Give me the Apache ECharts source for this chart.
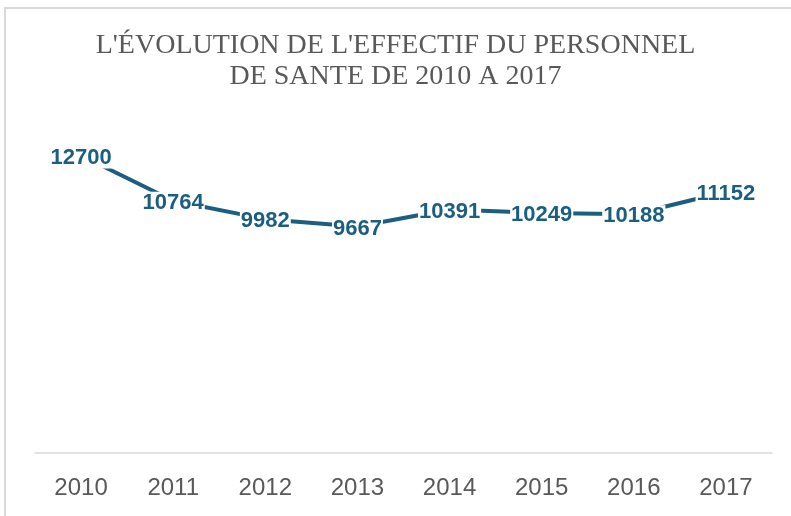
<!DOCTYPE html>
<html>
<head>
<meta charset="utf-8">
<script src="https://cdn.jsdelivr.net/npm/echarts@6/dist/echarts.min.js"></script>
<style>
html,body{margin:0;padding:0;background:#fff;}
#chart{width:791px;height:516px;}
</style>
</head>
<body>
<div id="chart"></div>
<script>
const titleText = "L'ÉVOLUTION DE L'EFFECTIF DU PERSONNEL\nDE SANTE DE 2010 A 2017";
const categories = ['2010','2011','2012','2013','2014','2015','2016','2017'];
const effectif = [12700, 10764, 9982, 9667, 10391, 10249, 10188, 11152];

const chart = echarts.init(document.getElementById('chart'), null, {renderer:'canvas'});
chart.setOption({
  animation: false,
  backgroundColor: '#fff',
  title: {
    text: titleText,
    left: 'center',
    top: 25,
    textStyle: {
      fontFamily: '"Liberation Serif", "Times New Roman", serif',
      fontWeight: 'normal',
      fontSize: 28,
      lineHeight: 31,
      color: '#595959'
    }
  },
  graphic: [{
    type: 'rect',
    shape: {x: 5, y: 8, width: 900, height: 700},
    style: {fill: 'none', stroke: '#d9d9d9', lineWidth: 2},
    silent: true,
    z: -1
  }],
  grid: {left: 35, right: 19, top: 125, bottom: 63, containLabel: false},
  xAxis: {
    type: 'category',
    data: categories,
    boundaryGap: true,
    axisLine: {lineStyle: {color: '#d9d9d9', width: 1.5}},
    axisTick: {show: false},
    axisLabel: {
      color: '#595959',
      fontFamily: '"Liberation Sans", Arial, sans-serif',
      fontSize: 24,
      margin: 23
    }
  },
  yAxis: {
    type: 'value',
    min: 0,
    max: 14000,
    show: false,
    splitLine: {show: false}
  },
  series: [{
    type: 'line',
    data: effectif,
    symbol: 'circle',
    symbolSize: 0,
    showSymbol: true,
    lineStyle: {color: '#1a5e80', width: 4},
    itemStyle: {color: '#1a5e80'},
    label: {
      show: true,
      position: 'inside',
      offset: [0, 2],
      color: '#1a5e80',
      fontFamily: '"Liberation Sans", Arial, sans-serif',
      fontWeight: 'bold',
      fontSize: 22,
      backgroundColor: '#fff',
      padding: [0, 1]
    },
    z: 3
  }]
});
</script>
</body>
</html>
